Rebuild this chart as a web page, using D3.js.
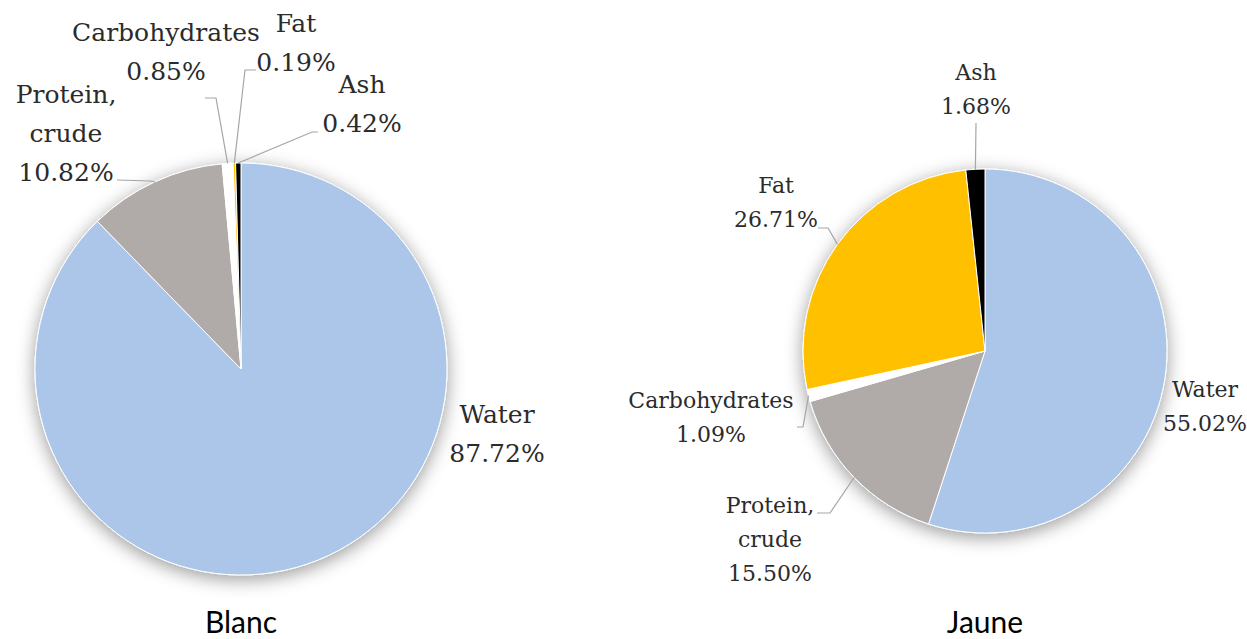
<!DOCTYPE html>
<html>
<head>
<meta charset="utf-8">
<script src="https://cdn.jsdelivr.net/npm/d3@7"></script>
<style>
  body { margin: 0; background: #fff; }
  svg { display: block; }
</style>
</head>
<body>
<div id="chart"></div>
<script>
// data (percent of sample)
var categories = ["Water", "Protein, crude", "Carbohydrates", "Fat", "Ash"];
var labelLines = [["Water"], ["Protein,", "crude"], ["Carbohydrates"], ["Fat"], ["Ash"]];
var blancValues = [87.72, 10.82, 0.85, 0.19, 0.42];
var jauneValues = [55.02, 15.50, 1.09, 26.71, 1.68];
var titles = ["Blanc", "Jaune"];
var colors = ["#abc6e8", "#b0aba9", "#ffffff", "#ffc000", "#000000"];

var width = 1247, height = 639;

// where each pie sits and where its labels go (hand placed like the original)
var pies = [
  {
    values: blancValues, title: titles[0], cx: 241, cy: 369, r: 206, font: 25, lh: 39,
    labels: [
      { x: 497, y: 423, pts: [] },
      { x: 66, y: 103, pts: [[117, 180], [150, 181]] },
      { x: 166, y: 41, pts: [[205, 98], [216, 98]] },
      { x: 296, y: 32, pts: [[256, 70], [245, 70]] },
      { x: 362, y: 93, pts: [[318, 132], [312, 132]] }
    ]
  },
  {
    values: jauneValues, title: titles[1], cx: 985, cy: 351, r: 182, font: 22, lh: 34,
    labels: [
      { x: 1205, y: 397, pts: [] },
      { x: 770, y: 513, pts: [[817, 513], [830, 513]] },
      { x: 711, y: 408, pts: [[797, 427], [803, 427]] },
      { x: 776, y: 193, pts: [[818, 228], [828, 228]] },
      { x: 976, y: 80, pts: [[976, 123]] }
    ]
  }
];

var svg = d3.select("#chart")
  .append("svg")
  .attr("width", width)
  .attr("height", height);

// soft shadow round the pies
var defs = svg.append("defs");
var f = defs.append("filter")
  .attr("id", "shadow")
  .attr("x", "-25%").attr("y", "-25%")
  .attr("width", "150%").attr("height", "150%");
f.append("feDropShadow")
  .attr("dx", 0).attr("dy", 4)
  .attr("stdDeviation", 9)
  .attr("flood-color", "#000")
  .attr("flood-opacity", 0.4);

var pie = d3.pie().sort(null).value(function (d) { return d; });

pies.forEach(function (p) {
  var arcs = pie(p.values);
  var arc = d3.arc().innerRadius(0).outerRadius(p.r);
  var edge = d3.arc().innerRadius(p.r).outerRadius(p.r);

  var g = svg.append("g")
    .attr("transform", "translate(" + p.cx + "," + p.cy + ")");

  g.append("g")
    .attr("filter", "url(#shadow)")
    .selectAll("path")
    .data(arcs)
    .enter()
    .append("path")
    .attr("d", arc)
    .attr("fill", function (d, i) { return colors[i]; })
    .attr("stroke", "#fff")
    .attr("stroke-width", 1);

  // leader lines: from label to the middle of the slice rim
  var line = d3.line();
  p.labels.forEach(function (lab, i) {
    if (!lab.pts.length) return;
    var c = edge.centroid(arcs[i]);
    var pts = lab.pts.map(function (q) { return [q[0] - p.cx, q[1] - p.cy]; });
    pts.push(c);
    g.append("path")
      .attr("d", line(pts))
      .attr("fill", "none")
      .attr("stroke", "#a6a6a6")
      .attr("stroke-width", 1.2);
  });

  // labels
  p.labels.forEach(function (lab, i) {
    var lines = labelLines[i].concat([p.values[i].toFixed(2) + "%"]);
    var t = svg.append("text")
      .attr("text-anchor", "middle")
      .attr("font-family", "'DejaVu Serif', serif")
      .attr("font-size", p.font)
      .attr("fill", "#2b2b2b");
    lines.forEach(function (s, k) {
      t.append("tspan")
        .attr("x", lab.x)
        .attr("y", lab.y + k * p.lh)
        .text(s);
    });
  });

  svg.append("text")
    .attr("x", p.cx)
    .attr("y", 633)
    .attr("text-anchor", "middle")
    .attr("font-family", "Lato, 'Open Sans', sans-serif")
    .attr("font-size", 30)
    .attr("fill", "#000")
    .text(p.title);
});
</script>
</body>
</html>
